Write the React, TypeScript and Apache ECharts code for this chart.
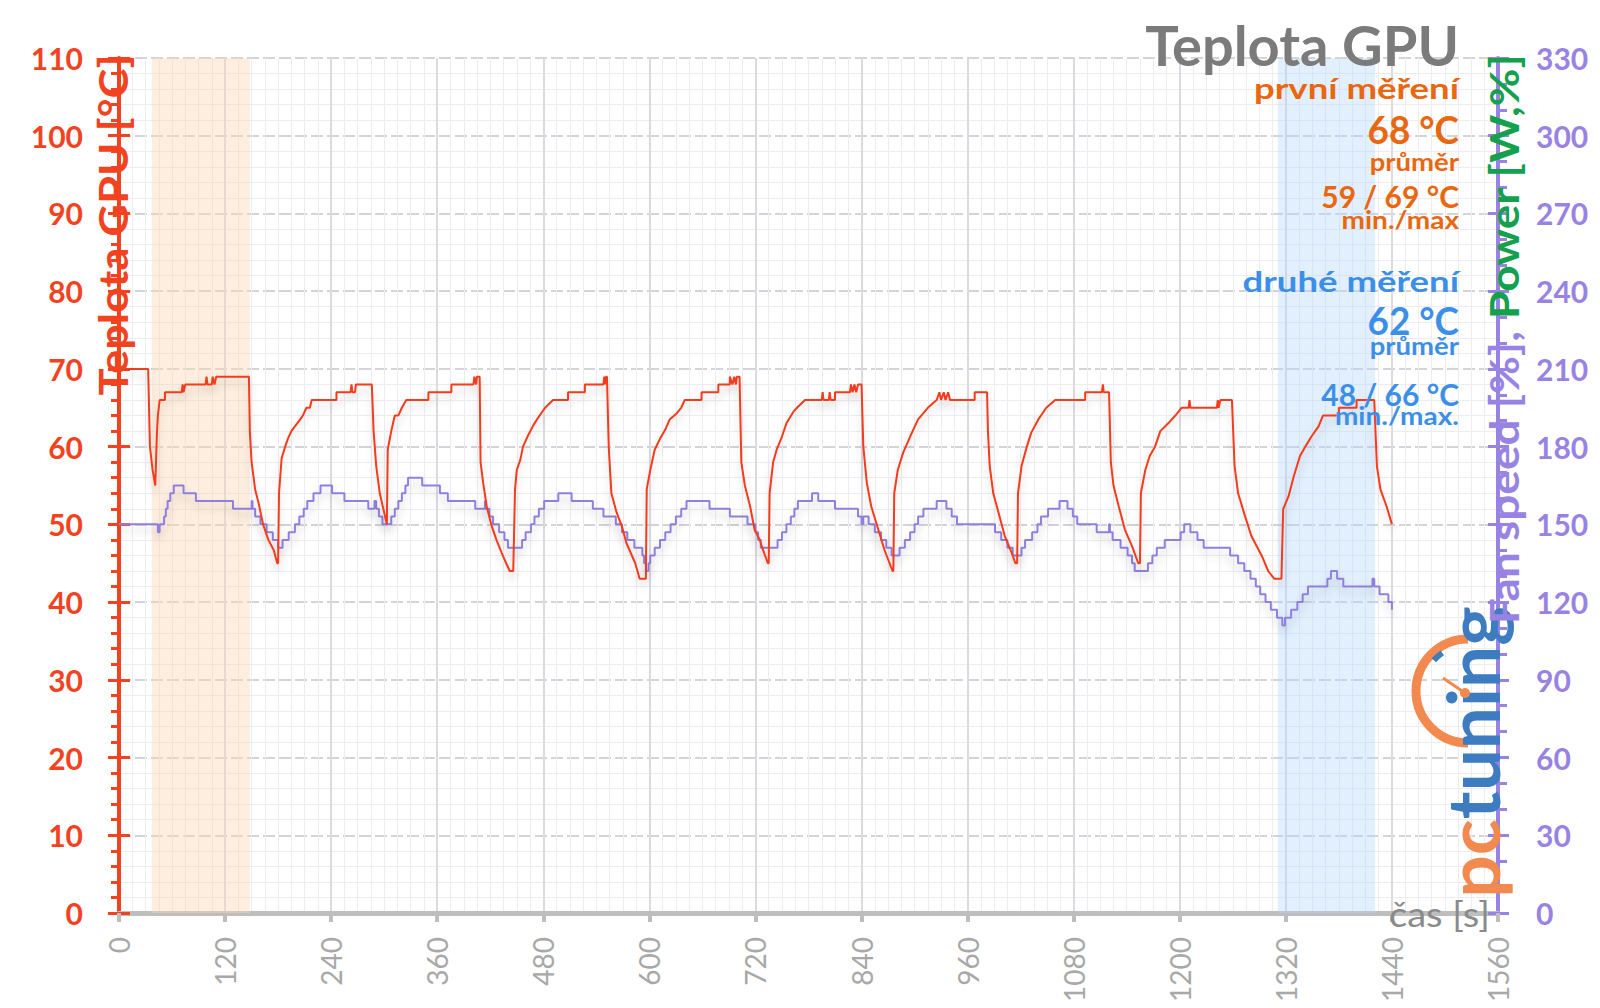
import React, { useEffect, useRef } from "react";
import * as echarts from "echarts";

// ---------- data ----------
// GPU temperature [s, °C]
const gpuTemp: [number, number][] = [
  [0, 70], [33, 70], [35, 60], [38, 57], [41, 55], [43, 62], [44, 64], [46, 66], [52, 66], [52, 67], [71, 67], [72, 68], [73, 67], [75, 68], [98, 68], [99, 69], [100, 68], [105, 68], [106, 69], [108, 68], [110, 69], [147, 69],
  [148, 62], [150, 58], [154, 54.5], [158, 52.7], [163, 50], [169, 48], [175, 46.7], [179, 45], [180, 45],
  [181, 54], [184, 58.5], [188, 60], [191, 61], [195, 62], [199, 62.6], [205, 63.5], [208, 64], [212, 65], [216, 65], [218, 66], [246, 66], [246, 67], [262, 67], [263, 68], [264, 67], [267, 67], [268, 68], [286, 68],
  [288, 62], [291, 57.5], [295, 54], [299, 52], [303, 50],
  [304, 59.6], [308, 62], [312, 64], [316, 64], [320, 65], [325, 66], [350, 66], [350, 67], [376, 67], [376, 68], [401, 68], [402, 69], [404, 68], [405, 69], [408, 69],
  [409, 58], [412, 55.3], [416, 52.3], [421, 50], [427, 48], [433, 46.3], [438, 45], [442, 44], [446, 44],
  [448, 54.5], [450, 57], [454, 58.3], [457, 60], [463, 61.5], [469, 62.8], [474, 63.7], [482, 65], [491, 66], [508, 66], [508, 67], [527, 67], [527, 68], [548, 68], [549, 69], [550, 68], [551, 69], [552, 69],
  [554, 60], [557, 54], [563, 51.5], [569, 49.7], [574, 47.6], [584, 45], [589, 43], [596, 43],
  [597, 54.5], [601, 57], [606, 59.6], [612, 61], [618, 62.2], [623, 63.5], [631, 64.3], [636, 65], [640, 66], [659, 66], [659, 67], [678, 67], [678, 68], [691, 68], [691, 69], [694, 68], [696, 69], [698, 68], [699, 69], [702, 69],
  [704, 58], [708, 55], [714, 52.3], [719, 49.3], [725, 48], [727, 47.2], [734, 45], [735, 45],
  [736, 54], [740, 58], [744, 59.6], [750, 61.3], [755, 63], [763, 64.5], [767, 65], [776, 66], [795, 66], [796, 67], [797, 66], [803, 66], [804, 67], [805, 66], [810, 66], [810, 67], [827, 67], [828, 68], [830, 67], [832, 68], [834, 67], [836, 68], [840, 68],
  [842, 60], [846, 55.3], [851, 52.3], [859, 49.3], [866, 46.7], [875, 44], [876, 44],
  [877, 54], [881, 57], [887, 59.2], [895, 61.3], [904, 63.5], [915, 65], [925, 66], [928, 67], [930, 66], [933, 67], [935, 66], [938, 67], [940, 66], [968, 66], [968, 67], [982, 67],
  [983, 62], [985, 57.5], [989, 54], [995, 51.5], [1002, 48.5], [1010, 46.3], [1014, 45], [1016, 45],
  [1017, 54], [1021, 57.5], [1027, 60], [1032, 61.8], [1040, 63.5], [1049, 65], [1059, 66], [1093, 66], [1093, 67], [1112, 67], [1113, 68], [1114, 67], [1120, 67],
  [1122, 58], [1125, 55], [1131, 52.3], [1138, 49.3], [1146, 47.2], [1153, 45], [1155, 45],
  [1156, 54], [1161, 57], [1166, 58.8], [1172, 60], [1178, 62], [1187, 63], [1195, 64], [1202, 65], [1210, 65], [1211, 66], [1212, 65], [1216, 65], [1242, 65], [1243, 66], [1244, 65], [1246, 66], [1259, 66],
  [1262, 57.5], [1266, 54], [1274, 51], [1281, 48.5], [1293, 45.9], [1300, 44], [1307, 43], [1315, 43],
  [1317, 52], [1323, 53.6], [1329, 56.2], [1336, 58.8], [1342, 60], [1349, 61.3], [1357, 62.6], [1362, 64], [1380, 64], [1380, 65], [1400, 65], [1400, 66], [1420, 66],
  [1423, 57.5], [1427, 54.5], [1434, 52.3], [1440, 50],
];

// Fan speed, right axis units [s, value]
const fanSpeed: [number, number][] = [
  [0, 150], [44, 147], [46, 150], [51, 153], [53, 156], [55, 159], [58, 162], [62, 165], [73, 162], [87, 159], [129, 156], [150, 159], [151, 156], [154, 153], [160, 150], [167, 147], [174, 144], [180, 141],
  [185, 144], [192, 147], [199, 150], [204, 153], [209, 156], [213, 159], [220, 162], [228, 165], [241, 162], [255, 159], [282, 156], [289, 159], [291, 156], [294, 153], [298, 150],
  [308, 153], [312, 156], [316, 159], [320, 162], [324, 165], [327, 168], [343, 165], [363, 162], [372, 159], [403, 156], [414, 159], [415, 156], [419, 153], [423, 150], [430, 147], [436, 144], [440, 141],
  [456, 144], [460, 147], [466, 150], [470, 153], [475, 156], [481, 159], [497, 162], [512, 159], [536, 156], [548, 153], [562, 150], [569, 147], [575, 144], [583, 141], [592, 138], [594, 135], [596, 132],
  [599, 135], [601, 138], [606, 141], [612, 144], [618, 147], [624, 150], [630, 153], [636, 156], [642, 159], [668, 156], [691, 153], [711, 150], [720, 147], [723, 144], [726, 141],
  [745, 144], [750, 147], [755, 150], [760, 153], [764, 156], [768, 159], [784, 162], [791, 159], [810, 156], [836, 153], [840, 150], [842, 153], [848, 150], [855, 147], [862, 144], [868, 141], [874, 138],
  [883, 141], [889, 144], [895, 147], [900, 150], [904, 153], [910, 156], [925, 159], [936, 156], [942, 153], [948, 150], [991, 147], [998, 144], [1005, 141], [1011, 138],
  [1021, 141], [1025, 144], [1033, 147], [1039, 150], [1043, 153], [1051, 156], [1064, 159], [1073, 156], [1079, 153], [1084, 150], [1106, 147], [1120, 150], [1121, 147], [1124, 144], [1133, 141], [1141, 138], [1146, 135], [1149, 132],
  [1164, 135], [1169, 138], [1174, 141], [1183, 144], [1201, 147], [1205, 150], [1212, 147], [1220, 144], [1227, 141], [1257, 138], [1266, 135], [1273, 132], [1280, 129], [1286, 126], [1291, 123], [1297, 120], [1303, 117], [1310, 114], [1316, 111],
  [1319, 114], [1326, 117], [1333, 120], [1339, 123], [1345, 126], [1367, 129], [1371, 132], [1378, 129], [1385, 126], [1418, 129], [1420, 126], [1426, 123], [1436, 120], [1440, 117],
];

const firstWindow = [37, 148];
const secondWindow = [1311, 1421];

const titleText = "Teplota GPU";
const firstLabels = ["první měření", "68 °C", "průměr", "59 / 69 °C", "min./max"];
const secondLabels = ["druhé měření", "62 °C", "průměr", "48 / 66 °C", "min./max."];
const leftAxisName = "Teplota GPU [°C]";
const rightAxisNameA = "Fan speed [%],";
const rightAxisNameB = "Power [W,%]";
const xAxisName = "čas [s]";

// ---------- styles ----------
const FONT = 'Lato, "Open Sans", sans-serif';
const RED = "#f3421f";
const RED_LINE = "#f43b1c";
const PURPLE = "#9883e4";
const PURPLE_LINE = "#8f80e0";
const GREEN = "#14a04c";
const ORANGE_TXT = "#e8670f";
const BLUE_TXT = "#3c8fe8";
const GRAY_TITLE = "#7b7b7b";

export default function App() {
  const ref = useRef<HTMLDivElement>(null);

  useEffect(() => {
    document.body.style.margin = "0";
    if (!ref.current) return;
    const chart = echarts.init(ref.current, undefined, { renderer: "svg" });

    const statSizes = [29, 38, 25, 30, 25];
    const statScale = [1.26, 0.97, 1.1, 1.0, 1.12];
    const statYs = [88, 129, 161, 196, 220];
    const statYs2 = [281, 320, 345, 394, 416];
    const statTexts: any[] = [];
    firstLabels.forEach((t, i) =>
      statTexts.push({
        type: "text",
        x: 1459,
        y: statYs[i],
        scaleX: statScale[i],
        z: 100,
        style: { text: t, align: "right", verticalAlign: "middle", fill: ORANGE_TXT, font: `bold ${statSizes[i]}px ${FONT}` },
      })
    );
    secondLabels.forEach((t, i) =>
      statTexts.push({
        type: "text",
        x: 1459,
        y: statYs2[i],
        scaleX: statScale[i],
        z: 100,
        style: { text: t, align: "right", verticalAlign: "middle", fill: BLUE_TXT, font: `bold ${statSizes[i]}px ${FONT}` },
      })
    );

    const option: any = {
      animation: false,
      backgroundColor: "#ffffff",
      grid: { left: 119, right: 102, top: 58, bottom: 95, containLabel: false, outerBoundsMode: "none" },
      xAxis: {
        type: "value",
        min: 0,
        max: 1560,
        interval: 120,
        axisLine: { show: true, onZero: false, lineStyle: { color: "#bebebe", width: 5 } },
        axisTick: { show: true, length: 9, lineStyle: { color: "#bebebe", width: 4 } },
        axisLabel: {
          rotate: 90,
          margin: 24,
          color: "#a8a8a8",
          fontSize: 28,
          fontFamily: FONT,
          formatter: (v: number) => String(v),
        },
        splitLine: { show: true, lineStyle: { color: "#dadae0", width: 2 } },
        minorTick: { show: false, splitNumber: 8 },
        minorSplitLine: { show: true, lineStyle: { color: "#ededf1", width: 1 } },
      },
      yAxis: [
        {
          type: "value",
          position: "left",
          min: 0,
          max: 110,
          interval: 10,
          axisLine: { show: true, onZero: false, lineStyle: { color: RED, width: 4 } },
          axisTick: { show: true, length: 11, lineStyle: { color: RED, width: 3 } },
          minorTick: { show: true, splitNumber: 5, length: 8, lineStyle: { color: RED, width: 3 } },
          axisLabel: { margin: 36, color: RED, fontSize: 30, fontWeight: "bold", fontFamily: FONT },
          splitLine: { show: true, lineStyle: { color: "#d4d4d8", width: 2, type: [12, 4] } },
          minorSplitLine: { show: true, lineStyle: { color: "#ededf1", width: 1 } },
        },
        {
          type: "value",
          position: "left",
          min: 0,
          max: 110,
          interval: 10,
          axisLine: { show: false },
          axisTick: { show: true, inside: true, length: 11, lineStyle: { color: RED, width: 3 } },
          axisLabel: { show: false },
          splitLine: { show: false },
        },
        {
          type: "value",
          position: "right",
          min: 0,
          max: 330,
          interval: 30,
          axisLine: { show: true, onZero: false, lineStyle: { color: PURPLE, width: 4 } },
          axisTick: { show: true, length: 11, lineStyle: { color: PURPLE, width: 3 } },
          minorTick: { show: true, splitNumber: 3, length: 9, lineStyle: { color: PURPLE, width: 3 } },
          axisLabel: { margin: 38, color: PURPLE, fontSize: 30, fontWeight: "bold", fontFamily: FONT },
          splitLine: { show: false },
        },
        {
          type: "value",
          position: "right",
          min: 0,
          max: 330,
          interval: 30,
          axisLine: { show: false },
          axisTick: { show: true, inside: true, length: 10, lineStyle: { color: PURPLE, width: 3 } },
          axisLabel: { show: false },
          splitLine: { show: false },
        },
      ],
      series: [
        {
          type: "line",
          name: "fan",
          yAxisIndex: 2,
          step: "end",
          data: fanSpeed,
          symbol: "none",
          z: 3,
          lineStyle: { color: PURPLE_LINE, width: 2, shadowColor: "rgba(0,0,0,0.18)", shadowBlur: 8, shadowOffsetY: 6 },
          markArea: {
            silent: true,
            data: [
              [
                { xAxis: firstWindow[0], itemStyle: { color: "rgba(252,214,178,0.42)" } },
                { xAxis: firstWindow[1] },
              ],
              [
                { xAxis: secondWindow[0], itemStyle: { color: "rgba(180,212,250,0.38)" } },
                { xAxis: secondWindow[1] },
              ],
            ],
          },
        },
        {
          type: "line",
          name: "temp",
          yAxisIndex: 0,
          data: gpuTemp,
          symbol: "none",
          z: 4,
          lineStyle: { color: RED_LINE, width: 2, shadowColor: "rgba(0,0,0,0.18)", shadowBlur: 8, shadowOffsetY: 6 },
        },
      ],
      graphic: [
        {
          type: "text",
          x: 1459,
          y: 44,
          z: 100,
          style: { text: titleText, align: "right", verticalAlign: "middle", fill: GRAY_TITLE, font: `bold 56px ${FONT}` },
        },
        ...statTexts,
        {
          type: "text",
          x: 113,
          y: 225,
          rotation: Math.PI / 2,
          scaleX: 1.13,
          z: 100,
          style: { text: leftAxisName, align: "center", verticalAlign: "middle", fill: RED, font: `bold 40px ${FONT}` },
        },
        {
          type: "text",
          x: 1503,
          y: 339,
          rotation: Math.PI / 2,
          scaleX: 1.15,
          z: 100,
          style: {
            text: `{a|${rightAxisNameA}} {b|${rightAxisNameB}}`,
            align: "center",
            verticalAlign: "middle",
            font: `bold 40px ${FONT}`,
            rich: {
              a: { fill: PURPLE, font: `bold 40px ${FONT}` },
              b: { fill: GREEN, font: `bold 40px ${FONT}` },
            },
          },
        },
        {
          type: "text",
          x: 1389,
          y: 914,
          scaleX: 1.12,
          z: 100,
          style: { text: xAxisName, align: "left", verticalAlign: "middle", fill: "#8a8a8a", font: `34px ${FONT}` },
        },
        // logo
        {
          type: "arc",
          z: 90,
          shape: { cx: 1468, cy: 691, r: 52, startAngle: Math.PI / 2, endAngle: (3 * Math.PI) / 2, clockwise: true },
          style: { stroke: "#f28a4f", lineWidth: 9, fill: "none" },
        },
        {
          type: "arc",
          z: 91,
          shape: { cx: 1468, cy: 691, r: 46, startAngle: (222 * Math.PI) / 180, endAngle: (236 * Math.PI) / 180, clockwise: true },
          style: { stroke: "#3d7cc0", lineWidth: 6, fill: "none" },
        },
        {
          type: "line",
          z: 91,
          shape: { x1: 1443, y1: 678, x2: 1465, y2: 693 },
          style: { stroke: "#f28a4f", lineWidth: 3 },
        },
        {
          type: "circle",
          z: 91,
          shape: { cx: 1465, cy: 693, r: 5 },
          style: { fill: "#f28a4f" },
        },
        {
          type: "text",
          x: 1473,
          y: 752,
          rotation: Math.PI / 2,
          scaleX: 1.04,
          z: 90,
          style: {
            text: "{p|pc}{t|tuning}",
            align: "center",
            verticalAlign: "middle",
            font: `bold 72px ${FONT}`,
            rich: {
              p: { fill: "#f28a4f", font: `bold 72px ${FONT}` },
              t: { fill: "#3d7cc0", font: `bold 72px ${FONT}` },
            },
          },
        },
      ],
    };

    chart.setOption(option);
    return () => chart.dispose();
  }, []);

  return <div ref={ref} style={{ position: "absolute", left: 0, top: 0, width: 1600, height: 1008 }} />;
}
